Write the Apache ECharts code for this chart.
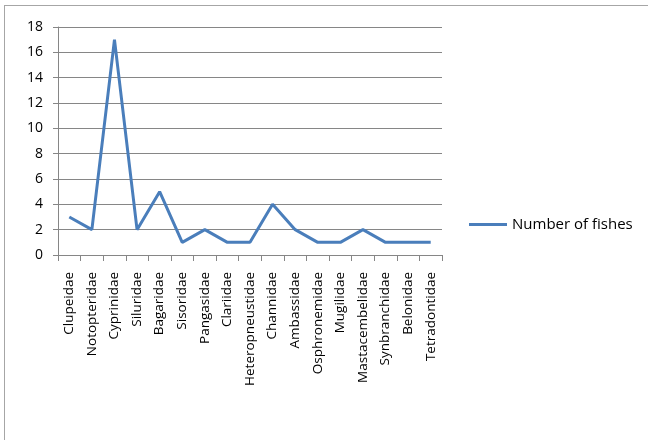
<!DOCTYPE html>
<html>
<head>
<meta charset="utf-8">
<script src="https://cdn.jsdelivr.net/npm/echarts@6/dist/echarts.min.js"></script>
<style>
  html, body { margin: 0; padding: 0; background: #fff; overflow: hidden; }
  #wrap { position: absolute; left: 4px; top: 5px; width: 700px; height: 500px; border: 1px solid #a6a6a6; box-sizing: border-box; }
  #chart { position: absolute; left: 0; top: 0; width: 648px; height: 440px; }
</style>
</head>
<body>
<div id="wrap"></div>
<div id="chart"></div>
<script>
// Fish families and the number of species recorded for each
const families = ['Clupeidae', 'Notopteridae', 'Cyprinidae', 'Siluridae', 'Bagaridae', 'Sisoridae',
  'Pangasidae', 'Clariidae', 'Heteropneustidae', 'Channidae', 'Ambassidae', 'Osphronemidae',
  'Mugilidae', 'Mastacembelidae', 'Synbranchidae', 'Belonidae', 'Tetradontidae'];
const fishCounts = [3, 2, 17, 2, 5, 1, 2, 1, 1, 4, 2, 1, 1, 2, 1, 1, 1];
const seriesName = 'Number of fishes';

const font = '"Open Sans", "Liberation Sans", sans-serif';
const chart = echarts.init(document.getElementById('chart'), null, { renderer: 'canvas' });
chart.setOption({
  animation: false,
  grid: { left: 58, top: 27, width: 384, height: 228, containLabel: false },
  legend: {
    data: [seriesName],
    left: 469, top: 217, padding: 0,
    itemWidth: 38, itemHeight: 20, itemGap: 3,
    icon: 'path://M0,8.5 L38,8.5 L38,11.5 L0,11.5 Z',
    textStyle: { fontFamily: font, fontSize: 15, color: '#000' }
  },
  xAxis: {
    type: 'category',
    data: families,
    boundaryGap: true,
    axisLine: { lineStyle: { color: '#868686', width: 1 } },
    axisTick: { show: true, alignWithLabel: false, length: 6, lineStyle: { color: '#868686' } },
    axisLabel: { rotate: 90, interval: 0, margin: 17, fontFamily: font, fontSize: 13.5, color: '#000' },
    splitLine: { show: false }
  },
  yAxis: {
    type: 'value',
    min: 0, max: 18, interval: 2,
    axisLine: { show: true, lineStyle: { color: '#868686', width: 1 } },
    axisTick: { show: true, length: 5, lineStyle: { color: '#868686' } },
    axisLabel: { margin: 15, fontFamily: font, fontSize: 14, color: '#000' },
    splitLine: { show: true, lineStyle: { color: '#868686', width: 1 } }
  },
  series: [{
    name: seriesName,
    type: 'line',
    data: fishCounts,
    symbol: 'none',
    lineStyle: { color: '#4a7ebb', width: 3 },
    itemStyle: { color: '#4a7ebb' }
  }]
});
</script>
</body>
</html>
